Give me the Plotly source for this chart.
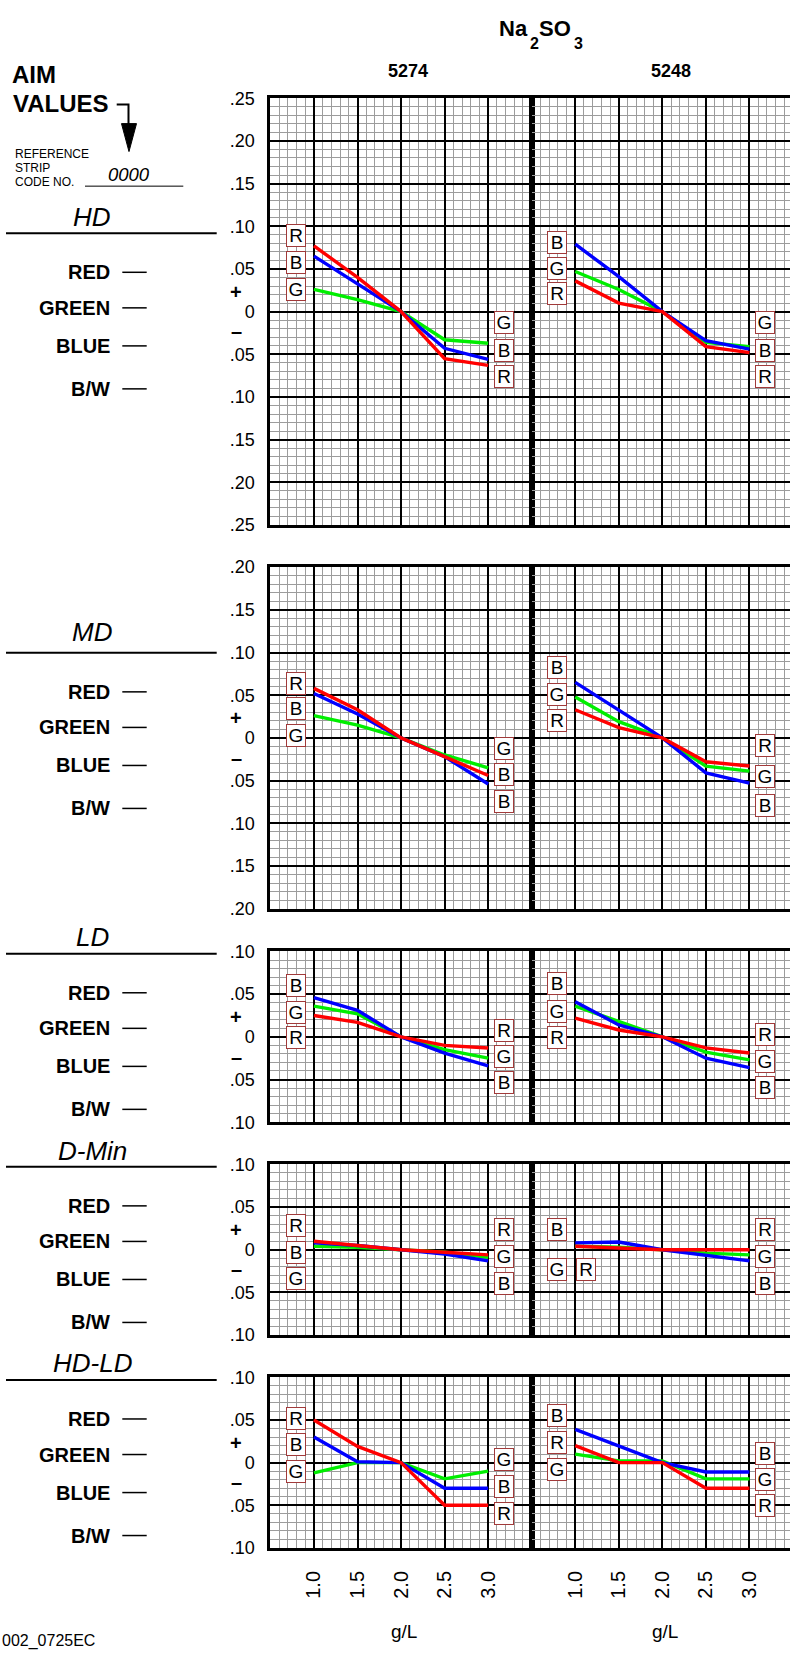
import plotly.graph_objects as go

# ---------------- data (g/L of Na2SO3 vs density deviation) ----------------
GL = [1.0, 1.5, 2.0, 2.5, 3.0]
GL_TICKS = ["1.0", "1.5", "2.0", "2.5", "3.0"]
PRODUCTS = ["5274", "5248"]
METRICS = ["HD", "MD", "LD", "D-Min", "HD-LD"]

hd_5274_red = [0.077, 0.040, 0.0, -0.055, -0.063]
hd_5274_green = [0.026, 0.014, 0.0, -0.033, -0.037]
hd_5274_blue = [0.065, 0.033, 0.0, -0.043, -0.056]
hd_5248_red = [0.036, 0.010, 0.0, -0.041, -0.048]
hd_5248_green = [0.047, 0.026, 0.0, -0.036, -0.041]
hd_5248_blue = [0.079, 0.041, 0.0, -0.034, -0.044]

md_5274_red = [0.058, 0.033, 0.0, -0.022, -0.044]
md_5274_green = [0.026, 0.015, 0.0, -0.020, -0.035]
md_5274_blue = [0.052, 0.028, 0.0, -0.022, -0.054]
md_5248_red = [0.033, 0.012, 0.0, -0.028, -0.033]
md_5248_green = [0.048, 0.019, 0.0, -0.033, -0.039]
md_5248_blue = [0.065, 0.033, 0.0, -0.041, -0.053]

ld_5274_red = [0.025, 0.017, 0.0, -0.010, -0.013]
ld_5274_green = [0.036, 0.027, 0.0, -0.015, -0.025]
ld_5274_blue = [0.046, 0.031, 0.0, -0.019, -0.034]
ld_5248_red = [0.022, 0.008, 0.0, -0.013, -0.019]
ld_5248_green = [0.036, 0.018, 0.0, -0.018, -0.027]
ld_5248_blue = [0.041, 0.014, 0.0, -0.025, -0.036]

dmin_5274_red = [0.010, 0.005, 0.0, -0.003, -0.006]
dmin_5274_green = [0.004, 0.003, 0.0, -0.003, -0.009]
dmin_5274_blue = [0.008, 0.005, 0.0, -0.005, -0.013]
dmin_5248_red = [0.004, 0.002, 0.0, 0.0, 0.0]
dmin_5248_green = [0.004, 0.003, 0.0, -0.004, -0.006]
dmin_5248_blue = [0.008, 0.009, 0.0, -0.006, -0.013]

hdld_5274_red = [0.050, 0.019, 0.0, -0.050, -0.050]
hdld_5274_green = [-0.012, 0.0, 0.0, -0.019, -0.010]
hdld_5274_blue = [0.030, 0.001, 0.0, -0.030, -0.030]
hdld_5248_red = [0.020, 0.0, 0.0, -0.030, -0.030]
hdld_5248_green = [0.010, 0.002, 0.002, -0.019, -0.019]
hdld_5248_blue = [0.039, 0.020, 0.0, -0.011, -0.011]

SERIES = {
    ("HD", "5274"): (hd_5274_green, hd_5274_blue, hd_5274_red),
    ("HD", "5248"): (hd_5248_green, hd_5248_blue, hd_5248_red),
    ("MD", "5274"): (md_5274_green, md_5274_blue, md_5274_red),
    ("MD", "5248"): (md_5248_green, md_5248_blue, md_5248_red),
    ("LD", "5274"): (ld_5274_green, ld_5274_blue, ld_5274_red),
    ("LD", "5248"): (ld_5248_green, ld_5248_blue, ld_5248_red),
    ("D-Min", "5274"): (dmin_5274_green, dmin_5274_blue, dmin_5274_red),
    ("D-Min", "5248"): (dmin_5248_green, dmin_5248_blue, dmin_5248_red),
    ("HD-LD", "5274"): (hdld_5274_green, hdld_5274_blue, hdld_5274_red),
    ("HD-LD", "5248"): (hdld_5248_green, hdld_5248_blue, hdld_5248_red),
}
LINE_COLORS = ["#00ee00", "#0000ff", "#ff0000"]

# ---------------- layout constants ----------------
W, H = 790, 1655
FONT = "Liberation Sans, Arial, sans-serif"
LX, RX = 0.79, 3.18   # label box columns (data units)
# label boxes: (letter, y) left / right per panel
LABELS = {
    ("HD", "5274"): ([("R", 0.089), ("B", 0.058), ("G", 0.026)], [("G", -0.013), ("B", -0.045), ("R", -0.076)]),
    ("HD", "5248"): ([("B", 0.081), ("G", 0.050), ("R", 0.021)], [("G", -0.013), ("B", -0.045), ("R", -0.076)]),
    ("MD", "5274"): ([("R", 0.064), ("B", 0.034), ("G", 0.003)], [("G", -0.013), ("B", -0.043), ("B", -0.074)]),
    ("MD", "5248"): ([("B", 0.083), ("G", 0.051), ("R", 0.020)], [("R", -0.009), ("G", -0.045), ("B", -0.079)]),
    ("LD", "5274"): ([("B", 0.060), ("G", 0.029), ("R", -0.001)], [("R", 0.008), ("G", -0.023), ("B", -0.054)]),
    ("LD", "5248"): ([("B", 0.062), ("G", 0.030), ("R", -0.001)], [("R", 0.003), ("G", -0.029), ("B", -0.059)]),
    ("D-Min", "5274"): ([("R", 0.028), ("B", -0.003), ("G", -0.034)], [("R", 0.024), ("G", -0.008), ("B", -0.039)]),
    ("D-Min", "5248"): ([("B", 0.024), ("G", -0.023)], [("R", 0.024), ("G", -0.008), ("B", -0.039)]),
    ("HD-LD", "5274"): ([("R", 0.052), ("B", 0.021), ("G", -0.010)], [("G", 0.004), ("B", -0.028), ("R", -0.060)]),
    ("HD-LD", "5248"): ([("B", 0.055), ("R", 0.023), ("G", -0.008)], [("B", 0.011), ("G", -0.020), ("R", -0.050)]),
}
EXTRA_LABELS = {("D-Min", "5248"): [("R", 1.12, -0.023)]}

STEP_PX = 43.2  # pixels per 0.05
ROWS = {  # top pixel, half-range
    "HD": (89.3, 0.25), "MD": (564.0, 0.20), "LD": (953.0, 0.10),
    "D-Min": (1168.5, 0.10), "HD-LD": (1384.0, 0.10),
}
LEFT_TEXT = {  # title y, underline y
    "HD": (210, 226), "MD": (630, 650.7), "LD": (938.3, 955.3),
    "D-Min": (1155, 1171), "HD-LD": (1370, 1386.7),
}
COLS = [(270.4, 531.7), (531.7, 790.0)]
UNIT_PX = (531.7 - 270.4) / 3.0


def px(x):
    return x / W


def py(y):
    return 1 - y / H


def tick_text(v):
    if abs(v) < 1e-9:
        return "0"
    return ("%.2f" % abs(v))[1:]


fig = go.Figure()
annotations = []
shapes = []

for r, m in enumerate(METRICS):
    top, lim = ROWS[m]
    bot = top + (2 * lim / 0.05) * STEP_PX
    zero_px = top + (lim / 0.05) * STEP_PX
    yvals = [round(-lim + 0.05 * i, 2) for i in range(int(round(2 * lim / 0.05)) + 1)]
    for c, prod in enumerate(PRODUCTS):
        idx = r * 2 + c + 1
        xa = "xaxis" if idx == 1 else "xaxis%d" % idx
        ya = "yaxis" if idx == 1 else "yaxis%d" % idx
        xr = "x" if idx == 1 else "x%d" % idx
        yr = "y" if idx == 1 else "y%d" % idx
        x0, x1 = COLS[c]
        xmax = 0.5 + (x1 - x0) / UNIT_PX
        bottom_row = (m == METRICS[-1])
        fig.layout[xa] = dict(
            domain=[px(x0), px(x1)], range=[0.5, xmax], anchor=yr,
            tickmode="array", tickvals=GL, ticktext=GL_TICKS,
            showticklabels=bottom_row, tickangle=-90, ticks="",
            ticklabelstandoff=12,
            tickfont=dict(family=FONT, size=20, color="black"),
            showgrid=True, gridcolor="black", gridwidth=1.6,
            minor=dict(tickmode="linear", tick0=0.5, dtick=0.1, showgrid=True,
                       gridcolor="#9c9c9c", gridwidth=1),
            showline=True, linecolor="black", linewidth=3, mirror=True,
            zeroline=False, fixedrange=True,
        )
        fig.layout[ya] = dict(
            domain=[py(bot), py(top)], range=[-lim, lim], anchor=xr,
            tickmode="array", tickvals=yvals, ticktext=[tick_text(v) for v in yvals],
            showticklabels=(c == 0), ticks="", ticklabelstandoff=9,
            tickfont=dict(family=FONT, size=18, color="black"),
            showgrid=True, gridcolor="black", gridwidth=1.6,
            minor=dict(tickmode="linear", tick0=0, dtick=0.01, showgrid=True,
                       gridcolor="#9c9c9c", gridwidth=1),
            showline=True, linecolor="black", linewidth=3,
            mirror=(c == 0), zeroline=False, fixedrange=True,
        )
        for vals, col in zip(SERIES[(m, prod)], LINE_COLORS):
            fig.add_trace(go.Scatter(
                x=GL, y=vals, mode="lines", xaxis=xr, yaxis=yr,
                line=dict(color=col, width=3.4), showlegend=False, hoverinfo="skip",
            ))
        left, right = LABELS[(m, prod)]
        boxes = [(t, LX, y) for t, y in left] + [(t, RX, y) for t, y in right]
        boxes += EXTRA_LABELS.get((m, prod), [])
        for t, bx, by in boxes:
            annotations.append(dict(
                x=bx, y=by, xref=xr, yref=yr, text=t, showarrow=False,
                font=dict(family=FONT, size=19, color="black"),
                bgcolor="white", bordercolor="#a13a3a", borderwidth=1, borderpad=1,
                width=16, height=19, xanchor="center", yanchor="middle",
            ))
    # + / - signs
    for sign, dy in (("+", -20), ("\u2013", 20)):
        annotations.append(dict(
            x=px(236), y=py(zero_px + dy), xref="paper", yref="paper", text="<b>%s</b>" % sign,
            showarrow=False, font=dict(family=FONT, size=20, color="black"),
            xanchor="center", yanchor="middle",
        ))
    # left side titles and channel labels
    ty, uy = LEFT_TEXT[m]
    annotations.append(dict(
        x=px(92), y=py(ty), xref="paper", yref="paper", text="<i>%s</i>" % m,
        showarrow=False, font=dict(family=FONT, size=26, color="black"),
        xanchor="center", yanchor="middle",
    ))
    shapes.append(dict(type="line", xref="paper", yref="paper",
                       x0=px(6), x1=px(216.7), y0=py(uy), y1=py(uy),
                       line=dict(color="black", width=2)))
    for name, off in (("RED", 39.5), ("GREEN", 75.5), ("BLUE", 114), ("B/W", 157.5)):
        yy = uy + off
        annotations.append(dict(
            x=px(112), y=py(yy), xref="paper", yref="paper", text="<b>%s</b>" % name,
            showarrow=False, font=dict(family=FONT, size=20, color="black"),
            xanchor="right", yanchor="middle",
        ))
        shapes.append(dict(type="line", xref="paper", yref="paper",
                           x0=px(122.3), x1=px(146.7), y0=py(yy), y1=py(yy),
                           line=dict(color="black", width=1.5)))

# headers (Na2SO3 built from pieces so the subscripts keep their size)
header_pieces = [
    ("<b>Na</b>", 496.7, 18.5, 22),
    ("<b>2</b>", 527.5, 33.5, 16),
    ("<b>SO</b>", 536.5, 18.5, 22),
    ("<b>3</b>", 571.5, 33.5, 16),
]
for t, x, y, s in header_pieces:
    annotations.append(dict(
        x=px(x), y=py(y), xref="paper", yref="paper", text=t, showarrow=False,
        font=dict(family=FONT, size=s, color="black"), xanchor="left", yanchor="middle",
    ))
annotations += [
    dict(x=px(408), y=py(61.7), text="<b>%s</b>" % PRODUCTS[0],
         font=dict(family=FONT, size=18, color="black")),
    dict(x=px(671), y=py(61.7), text="<b>%s</b>" % PRODUCTS[1],
         font=dict(family=FONT, size=18, color="black")),
    dict(x=px(404), y=py(1641.7), text="g/L", font=dict(family=FONT, size=19, color="black")),
    dict(x=px(665), y=py(1641.7), text="g/L", font=dict(family=FONT, size=19, color="black")),
]
for a in annotations[-4:]:
    a.update(xref="paper", yref="paper", showarrow=False, xanchor="center", yanchor="middle")

left_texts = [
    ("<b>AIM</b>", 10, 65.3, 24, "left"),
    ("<b>VALUES</b>", 11, 94.7, 24, "left"),
    ("REFERENCE", 12.7, 145.7, 12, "left"),
    ("STRIP", 12.7, 160, 12, "left"),
    ("CODE NO.", 12.7, 174.3, 12, "left"),
    ("<i>0000</i>", 129, 167, 18.5, "center"),
    ("002_0725EC", 97, 1650.7, 16, "right"),
]
for t, x, y, s, anc in left_texts:
    annotations.append(dict(
        x=px(x), y=py(y), xref="paper", yref="paper", text=t, showarrow=False,
        font=dict(family=FONT, size=s, color="black"), xanchor=anc, yanchor="middle",
    ))

# arrow and code underline
shapes.append(dict(type="path", xref="paper", yref="paper",
                   path="M %f,%f L %f,%f L %f,%f" % (px(116.7), py(95.7), px(128.5), py(95.7), px(128.5), py(117)),
                   line=dict(color="black", width=2)))
shapes.append(dict(type="path", xref="paper", yref="paper",
                   path="M %f,%f L %f,%f L %f,%f Z" % (px(121.5), py(115), px(136.5), py(115), px(129), py(143.3)),
                   fillcolor="black", line=dict(color="black", width=1)))
shapes.append(dict(type="line", xref="paper", yref="paper",
                   x0=px(85), x1=px(183.3), y0=py(178.3), y1=py(178.3),
                   line=dict(color="black", width=1)))

fig.update_layout(
    width=W, height=H, margin=dict(l=0, r=0, t=0, b=0),
    paper_bgcolor="white", plot_bgcolor="white",
    annotations=annotations, shapes=shapes, showlegend=False,
    font=dict(family=FONT, color="black"),
)
fig.write_html("out.html")
